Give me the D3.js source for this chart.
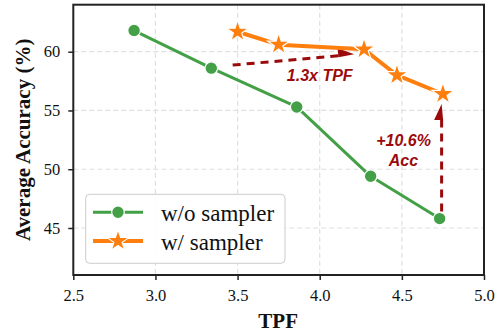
<!DOCTYPE html>
<html><head><meta charset="utf-8">
<script src="https://cdn.jsdelivr.net/npm/d3@7"></script>
<style>body{margin:0;background:#fff}svg{display:block}</style>
</head><body>
<svg id="chart" width="502" height="332"></svg>
<script>
const xTicks = [2.5, 3.0, 3.5, 4.0, 4.5, 5.0];
const yTicks = [45, 50, 55, 60];
const woTPF = [2.87, 3.34, 3.86, 4.31, 4.73];
const woAcc = [61.8, 58.6, 55.3, 49.4, 45.8];
const wTPF = [3.50, 3.75, 4.27, 4.47, 4.75];
const wAcc = [61.7, 60.6, 60.2, 58.0, 56.4];
const seriesNames = ["w/o sampler", "w/ sampler"];
const arrowTPF = {from: [3.47, 58.86], to: [4.21, 59.78], label: "1.3x TPF", at: [4.0, 57.5]};
const arrowAcc = {from: [4.742, 46.4], to: [4.742, 55.55], label: ["+10.6%", "Acc"], at: [4.51, 51.95]};

const svg = d3.select("#chart");
const L = 73.3, R = 484, T = 4.7, B = 275;
const x = d3.scaleLinear().domain([2.5, 5.0]).range([L, R]);
const y = d3.scaleLinear().domain([41, 64]).range([B, T]);
const green = "#43a047", orange = "#ff7f0e", red = "#9b0a0a";
const serif = "'Liberation Serif','Times New Roman',serif";
const sans = "'Liberation Sans',Arial,sans-serif";

// grid
const grid = svg.append("g");
xTicks.slice(1, -1).forEach(t => grid.append("line").attr("x1", x(t)).attr("x2", x(t)).attr("y1", T).attr("y2", B));
yTicks.forEach(t => grid.append("line").attr("x1", L).attr("x2", R).attr("y1", y(t)).attr("y2", y(t)));
grid.selectAll("line").attr("stroke", "#e0e0e0").attr("stroke-width", 1.2).attr("stroke-dasharray", "5,3");

// axes
const xAxis = d3.axisBottom(x).tickValues(xTicks).tickFormat(d3.format(".1f")).tickSize(5).tickPadding(7);
const yAxis = d3.axisLeft(y).tickValues(yTicks).tickFormat(d3.format("d")).tickSize(5).tickPadding(8);
const gx = svg.append("g").attr("transform", `translate(0,${B})`).call(xAxis);
const gy = svg.append("g").attr("transform", `translate(${L},0)`).call(yAxis);
[gx, gy].forEach(g => {
  g.select(".domain").remove();
  g.selectAll("line").attr("stroke", "#222").attr("stroke-width", 1.5);
  g.selectAll("text").attr("font-family", serif).attr("font-size", 16.5).attr("fill", "#111");
});
gx.selectAll("text").attr("dy", "0.85em");
svg.append("rect").attr("x", L).attr("y", T).attr("width", R - L).attr("height", B - T)
  .attr("fill", "none").attr("stroke", "#222").attr("stroke-width", 2);

// axis labels
svg.append("text").attr("x", (L + R) / 2 - 0.5).attr("y", 328).attr("text-anchor", "middle")
  .attr("font-family", serif).attr("font-weight", "bold").attr("font-size", 21).attr("fill", "#111").text("TPF");
svg.append("text").attr("transform", `translate(30,${(T + B) / 2}) rotate(-90)`).attr("text-anchor", "middle")
  .attr("font-family", serif).attr("font-weight", "bold").attr("font-size", 21).attr("fill", "#111").text("Average Accuracy (%)");

// arrows
function halfArrow(a) {
  const p0 = [x(a.from[0]), y(a.from[1])], p1 = [x(a.to[0]), y(a.to[1])];
  const dx = p1[0] - p0[0], dy = p1[1] - p0[1], len = Math.hypot(dx, dy);
  const ux = dx / len, uy = dy / len, nx = uy, ny = -ux; // left normal in screen coords
  const hl = 16, hw = 7.5;
  const base = [p1[0] - ux * hl, p1[1] - uy * hl];
  svg.append("line").attr("x1", p0[0]).attr("y1", p0[1]).attr("x2", base[0] + ux * 2).attr("y2", base[1] + uy * 2)
    .attr("stroke", red).attr("stroke-width", 3).attr("stroke-dasharray", "8,6");
  svg.append("path").attr("d", `M${p1[0]},${p1[1]}L${base[0] + nx * hw},${base[1] + ny * hw}L${base[0] - nx * 1.5},${base[1] - ny * 1.5}Z`)
    .attr("fill", red);
}
halfArrow(arrowTPF);
halfArrow(arrowAcc);
svg.append("text").attr("x", x(arrowTPF.at[0])).attr("y", y(arrowTPF.at[1])).attr("text-anchor", "middle")
  .attr("font-family", sans).attr("font-weight", "bold").attr("font-style", "italic").attr("font-size", 16)
  .attr("fill", red).text(arrowTPF.label);
arrowAcc.label.forEach((s, i) => svg.append("text").attr("x", x(arrowAcc.at[0])).attr("y", y(arrowAcc.at[1]) + i * 20)
  .attr("text-anchor", "middle").attr("font-family", sans).attr("font-weight", "bold").attr("font-style", "italic")
  .attr("font-size", 16).attr("fill", red).text(s));

// series
const line = d3.line().x(d => x(d[0])).y(d => y(d[1]));
const woData = woTPF.map((t, i) => [t, woAcc[i]]);
const wData = wTPF.map((t, i) => [t, wAcc[i]]);
const star = d3.symbol().type(d3.symbolStar);
function drawSeries(data, color, lw, marker) {
  svg.append("path").datum(data).attr("d", line).attr("fill", "none").attr("stroke", color).attr("stroke-width", lw)
    .attr("stroke-linejoin", "round");
  data.forEach(d => {
    if (marker === "circle") {
      svg.append("circle").attr("cx", x(d[0])).attr("cy", y(d[1])).attr("r", 6.3).attr("fill", color)
        .attr("stroke", "#fff").attr("stroke-width", 1.2);
    } else {
      svg.append("path").attr("d", star.size(150)()).attr("transform", `translate(${x(d[0])},${y(d[1])})`)
        .attr("fill", color).attr("stroke", "#fff").attr("stroke-width", 1.2);
    }
  });
}
drawSeries(woData, green, 3, "circle");
drawSeries(wData, orange, 4, "star");

// legend
const lg = svg.append("g");
lg.append("rect").attr("x", 85.7).attr("y", 194.3).attr("width", 199.3).attr("height", 69).attr("rx", 4)
  .attr("fill", "#fff").attr("fill-opacity", 0.9).attr("stroke", "#cccccc").attr("stroke-width", 1);
[[green, 3, "circle"], [orange, 4, "star"]].forEach((s, i) => {
  const yy = 212.3 + i * 28.7;
  lg.append("line").attr("x1", 93).attr("x2", 143).attr("y1", yy).attr("y2", yy).attr("stroke", s[0]).attr("stroke-width", s[1]);
  if (s[2] === "circle") lg.append("circle").attr("cx", 118).attr("cy", yy).attr("r", 6.3).attr("fill", s[0]).attr("stroke", "#fff").attr("stroke-width", 1.2);
  else lg.append("path").attr("d", star.size(150)()).attr("transform", `translate(118,${yy})`).attr("fill", s[0]).attr("stroke", "#fff").attr("stroke-width", 1.2);
  lg.append("text").attr("x", 161).attr("y", yy + 9).attr("font-family", serif).attr("font-size", 23).attr("fill", "#111").text(seriesNames[i]);
});
</script>
</body></html>
